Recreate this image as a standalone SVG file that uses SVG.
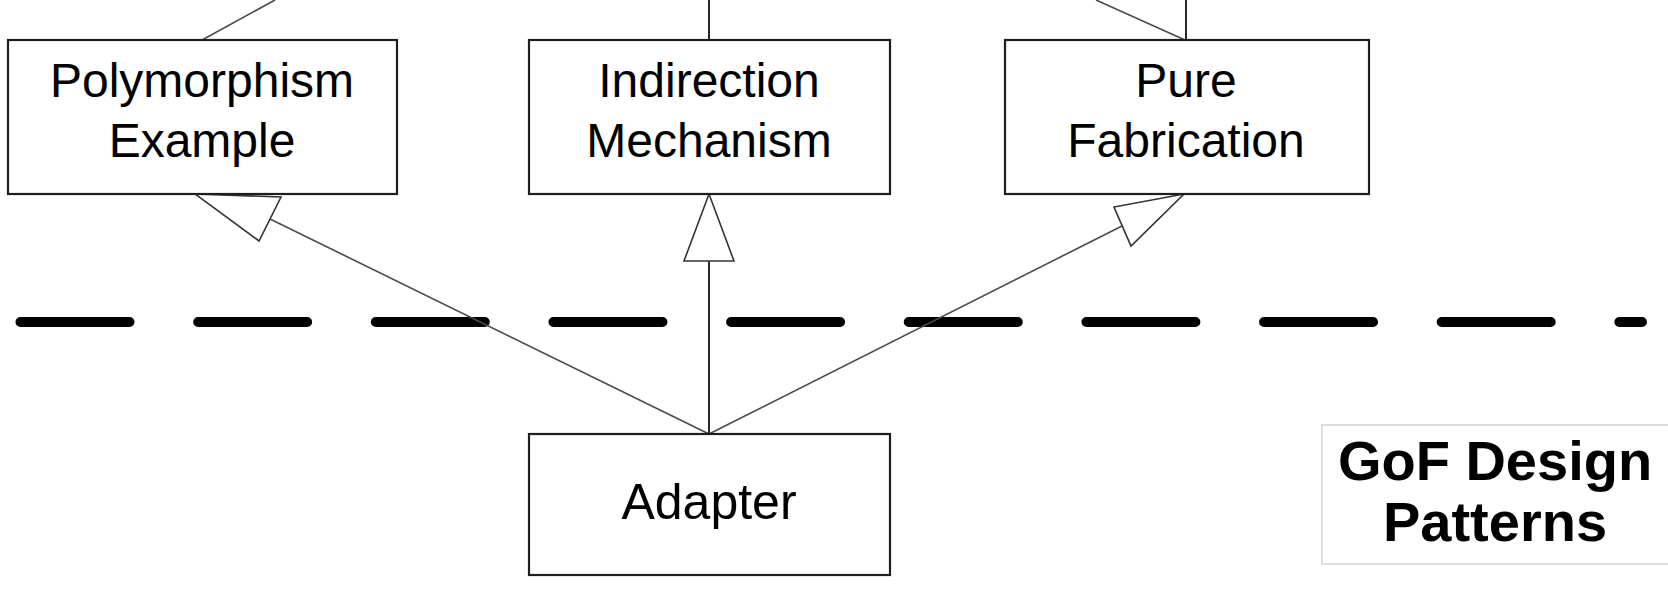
<svg xmlns="http://www.w3.org/2000/svg" width="1668" height="590" viewBox="0 0 1668 590">
  <style>
    .box { fill: #ffffff; stroke: #1e1e1e; stroke-width: 2.2; }
    .lbl { font-family: "Liberation Sans", Arial, sans-serif; font-size: 48px; fill: #000; text-anchor: middle; }
    .gof { font-family: "Liberation Sans", Arial, sans-serif; font-size: 56px; font-weight: bold; fill: #000; text-anchor: middle; }
    .diag { stroke: #4a4a4a; stroke-width: 1.6; fill: none; }
    .vert { stroke: #111; stroke-width: 1.8; fill: none; }
    .head { fill: #ffffff; stroke: #333; stroke-width: 1.6; stroke-linejoin: miter; }
  </style>
  <rect width="1668" height="590" fill="#ffffff"/>

  <g id="boundary">
    <line x1="20.5" y1="322" x2="1642" y2="322" stroke="#000" stroke-width="10" stroke-linecap="round" stroke-dasharray="109 68.65"/>
  </g>

  <g id="connectors">
    <line class="diag" x1="202" y1="40" x2="275" y2="0"/>
    <line class="vert" x1="709" y1="40" x2="709" y2="0"/>
    <line class="diag" x1="1185" y1="40" x2="1096" y2="0"/>
    <line class="vert" x1="1186" y1="40" x2="1186" y2="0"/>
    <line class="diag" x1="709" y1="434" x2="270" y2="219"/>
    <line class="vert" x1="709" y1="434" x2="709" y2="261"/>
    <line class="diag" x1="709" y1="434" x2="1122" y2="226"/>
    <polygon class="head" points="195,194 281,197 259,241"/>
    <polygon class="head" points="709,194 684,261 734,261"/>
    <polygon class="head" points="1184,194 1114,207 1131,246"/>
  </g>

  <g id="polymorphism">
    <rect class="box" x="8" y="40" width="389" height="154"/>
    <text class="lbl" x="202" y="97">Polymorphism</text>
    <text class="lbl" x="202" y="157">Example</text>
  </g>

  <g id="indirection">
    <rect class="box" x="529" y="40" width="361" height="154"/>
    <text class="lbl" x="709" y="97">Indirection</text>
    <text class="lbl" x="709" y="157">Mechanism</text>
  </g>

  <g id="pure-fabrication">
    <rect class="box" x="1005" y="40" width="364" height="154"/>
    <text class="lbl" x="1186" y="97">Pure</text>
    <text class="lbl" x="1186" y="157">Fabrication</text>
  </g>

  <g id="adapter">
    <rect class="box" x="529" y="434" width="361" height="141"/>
    <text class="lbl" x="709" y="519" style="font-size:50px">Adapter</text>
  </g>

  <g id="gof-label">
    <rect x="1322" y="425" width="360" height="139" fill="#ffffff" stroke="#d4d4d4" stroke-width="1.5"/>
    <text class="gof" x="1495" y="480">GoF Design</text>
    <text class="gof" x="1495" y="541">Patterns</text>
  </g>
</svg>
